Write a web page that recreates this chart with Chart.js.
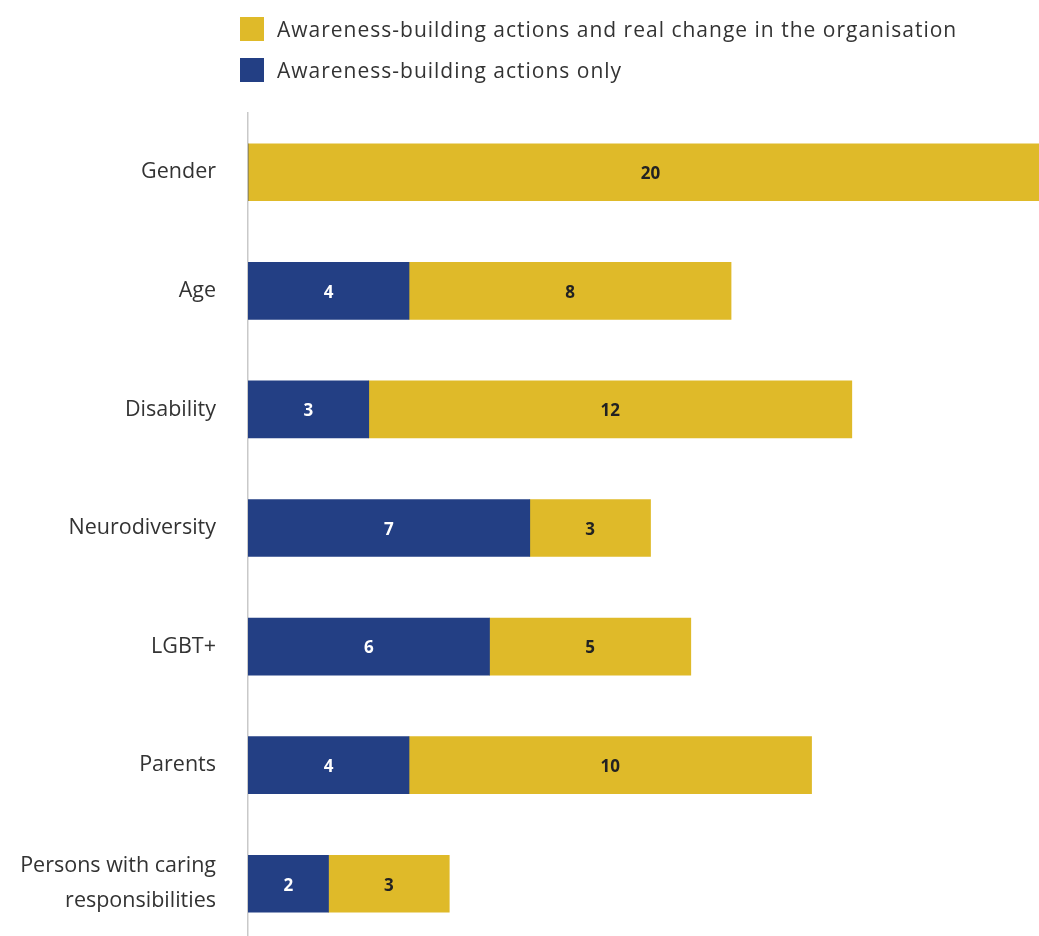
<!DOCTYPE html>
<html>
<head>
<meta charset="utf-8">
<script src="https://cdn.jsdelivr.net/npm/chart.js@4/dist/chart.umd.min.js"></script>
<style>
  html, body { margin: 0; padding: 0; background: #fff; overflow: hidden; }
  #wrap { position: relative; width: 1039px; height: 943px; }
  #chart { position: absolute; left: 0; top: 0; }
  .legend { position: absolute; left: 240px; top: 14px; font-family: "Open Sans", sans-serif; font-size: 21px; letter-spacing: 1px; color: #333; }
  .legend .item { display: flex; align-items: center; height: 30px; margin-bottom: 11px; }
  .legend .sw { width: 24px; height: 24px; margin-right: 13px; flex: none; }
</style>
</head>
<body>
<div id="wrap">
  <canvas id="chart" width="1039" height="943"></canvas>
  <div class="legend" id="legend"></div>
</div>
<script>
const categories = [
  'Gender',
  'Age',
  'Disability',
  'Neurodiversity',
  'LGBT+',
  'Parents',
  ['Persons with caring', 'responsibilities']
];
const awarenessOnly = [0, 4, 3, 7, 6, 4, 2];
const awarenessAndChange = [20, 8, 12, 3, 5, 10, 3];

const seriesNames = {
  change: 'Awareness-building actions and real change in the organisation',
  only: 'Awareness-building actions only'
};
const BLUE = '#233f84';
const YELLOW = '#dfba29';

// Legend: the "real change" series is listed first
const legendEl = document.getElementById('legend');
[[YELLOW, seriesNames.change], [BLUE, seriesNames.only]].forEach(([c, t]) => {
  const row = document.createElement('div');
  row.className = 'item';
  const sw = document.createElement('span');
  sw.className = 'sw';
  sw.style.background = c;
  const tx = document.createElement('span');
  tx.textContent = t;
  row.appendChild(sw);
  row.appendChild(tx);
  legendEl.appendChild(row);
});

// Value labels centred inside each bar segment
const segmentLabels = {
  id: 'segmentLabels',
  afterDatasetsDraw(chart) {
    const ctx = chart.ctx;
    ctx.save();
    ctx.font = 'bold 17px "Open Sans", sans-serif';
    ctx.textAlign = 'center';
    ctx.textBaseline = 'middle';
    chart.data.datasets.forEach((ds, di) => {
      const meta = chart.getDatasetMeta(di);
      meta.data.forEach((bar, i) => {
        const v = ds.data[i];
        if (!v) return;
        const left = Math.min(bar.x, bar.base);
        const right = Math.max(bar.x, bar.base);
        ctx.fillStyle = ds.labelColor;
        ctx.fillText(String(v), (left + right) / 2, bar.y + 2);
      });
    });
    ctx.restore();
  }
};

new Chart(document.getElementById('chart'), {
  type: 'bar',
  data: {
    labels: categories,
    datasets: [
      { label: seriesNames.only, data: awarenessOnly, backgroundColor: BLUE, labelColor: '#ffffff' },
      { label: seriesNames.change, data: awarenessAndChange, backgroundColor: YELLOW, labelColor: '#222222' }
    ]
  },
  options: {
    indexAxis: 'y',
    responsive: false,
    animation: false,
    maintainAspectRatio: false,
    layout: { padding: { top: 113, bottom: 0, left: 0, right: 0 } },
    datasets: { bar: { barThickness: 57, borderWidth: 0 } },
    plugins: { legend: { display: false }, tooltip: { enabled: false } },
    scales: {
      x: { stacked: true, display: false, min: 0, max: 19.65 },
      y: {
        stacked: true,
        afterFit(scale) {
          scale.width = 248;
          scale.paddingTop = 0;
          scale.paddingBottom = 0;
        },
        grid: { display: false },
        border: { display: true, color: '#c9c9c9', width: 1.5 },
        ticks: {
          padding: 24,
          color: '#333',
          font: { family: '"Open Sans", sans-serif', size: 21.5, lineHeight: 1.63 }
        }
      }
    }
  },
  plugins: [segmentLabels]
});
</script>
</body>
</html>
